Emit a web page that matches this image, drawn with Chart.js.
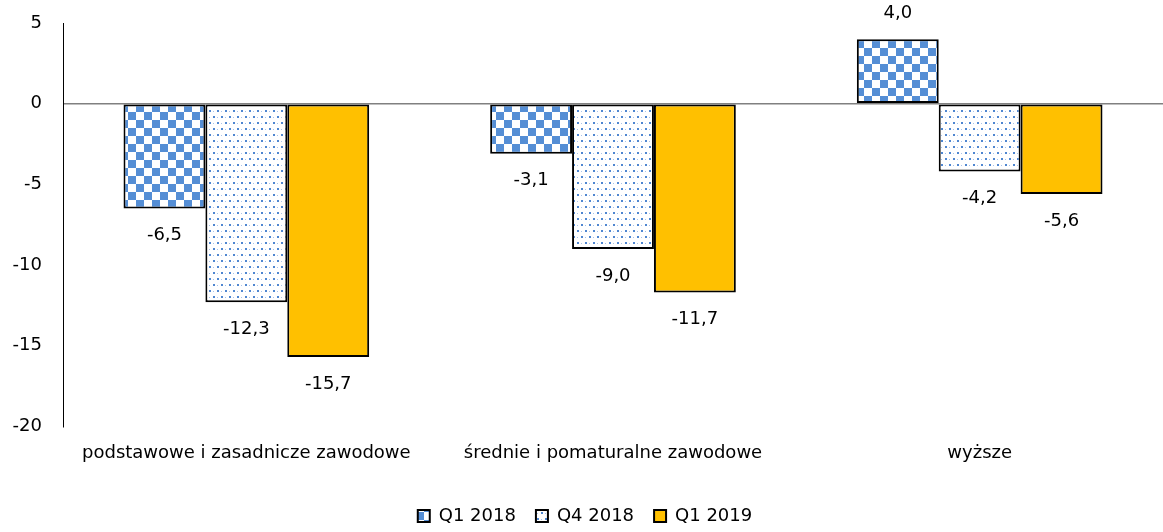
<!DOCTYPE html>
<html>
<head>
<meta charset="utf-8">
<script src="https://cdn.jsdelivr.net/npm/chart.js@4/dist/chart.umd.min.js"></script>
<style>
  html, body { margin: 0; padding: 0; background: #fff; }
  #wrap { width: 1163px; height: 532px; position: relative; }
</style>
</head>
<body>
<div id="wrap"><canvas id="c" width="1163" height="532"></canvas></div>
<script>
const categories = ['podstawowe i zasadnicze zawodowe', 'średnie i pomaturalne zawodowe', 'wyższe'];
const seriesNames = ['Q1 2018', 'Q4 2018', 'Q1 2019'];
const q1_2018 = [-6.5, -3.1, 4.0];
const q4_2018 = [-12.3, -9.0, -4.2];
const q1_2019 = [-15.7, -11.7, -5.6];
const yTicks = [5, 0, -5, -10, -15, -20];

const FONT = 'DejaVu Sans';

function checkerPattern() {
  const c = document.createElement('canvas');
  c.width = 16; c.height = 16;
  const g = c.getContext('2d');
  g.fillStyle = '#ffffff'; g.fillRect(0, 0, 16, 16);
  g.fillStyle = '#558ED5';
  g.fillRect(0, 0, 8, 8);
  g.fillRect(8, 8, 8, 8);
  return g.createPattern(c, 'repeat');
}
function dotPattern() {
  const c = document.createElement('canvas');
  c.width = 8; c.height = 12;
  const g = c.getContext('2d');
  g.fillStyle = '#ffffff'; g.fillRect(0, 0, 8, 12);
  g.fillStyle = '#4f86d0';
  g.fillRect(1, 2, 2, 2);
  g.fillRect(5, 8, 2, 2);
  g.fillStyle = '#a9c3ea';
  g.fillRect(5, 3, 1, 1);
  g.fillRect(1, 9, 1, 1);
  return g.createPattern(c, 'repeat');
}

const labelPlugin = {
  id: 'valueLabels',
  afterDatasetsDraw(chart) {
    const ctx = chart.ctx;
    ctx.save();
    ctx.font = '18px "' + FONT + '"';
    ctx.fillStyle = '#000';
    ctx.textAlign = 'center';
    ctx.textBaseline = 'middle';
    chart.data.datasets.forEach((ds, di) => {
      const meta = chart.getDatasetMeta(di);
      meta.data.forEach((bar, i) => {
        const v = ds.data[i];
        const txt = v.toFixed(1).replace('.', ',');
        const y = v < 0 ? bar.y + 27 : bar.y - 26;
        ctx.fillText(txt, bar.x, y);
      });
    });
    ctx.restore();
  }
};

const common = { borderColor: '#000', borderWidth: 2, borderSkipped: false, barPercentage: 1.0, categoryPercentage: 0.67 };

new Chart(document.getElementById('c'), {
  type: 'bar',
  data: {
    labels: categories,
    datasets: [
      Object.assign({ label: seriesNames[0], data: q1_2018, backgroundColor: checkerPattern() }, common),
      Object.assign({ label: seriesNames[1], data: q4_2018, backgroundColor: dotPattern() }, common),
      Object.assign({ label: seriesNames[2], data: q1_2019, backgroundColor: '#FFC000' }, common)
    ]
  },
  options: {
    responsive: false,
    animation: false,
    layout: { padding: { top: 23, right: -7, left: 0, bottom: -3 } },
    plugins: {
      legend: {
        position: 'bottom',
        labels: {
          font: { family: FONT, size: 18 },
          color: '#000',
          boxWidth: 12,
          boxHeight: 12,
          padding: 20
        }
      },
      tooltip: { enabled: false }
    },
    scales: {
      x: {
        grid: { display: false },
        border: { display: false },
        afterFit(s) { s.height += 15; },
        ticks: { font: { family: FONT, size: 18 }, color: '#000', padding: 8, maxRotation: 0, autoSkip: false }
      },
      y: {
        min: -20,
        max: 5,
        afterFit(s) { s.width = 63; s.paddingTop = 0; s.paddingBottom = 0; },
        afterBuildTicks(s) { s.ticks = yTicks.map(v => ({ value: v })); },
        grid: {
          drawTicks: false,
          color: (c) => (c.tick && c.tick.value === 0 ? '#808080' : 'rgba(0,0,0,0)'),
          lineWidth: 1.5
        },
        border: { display: true, color: '#000', width: 1 },
        ticks: { font: { family: FONT, size: 18 }, color: '#000', padding: 21, stepSize: 5 }
      }
    }
  },
  plugins: [labelPlugin]
});
</script>
</body>
</html>
